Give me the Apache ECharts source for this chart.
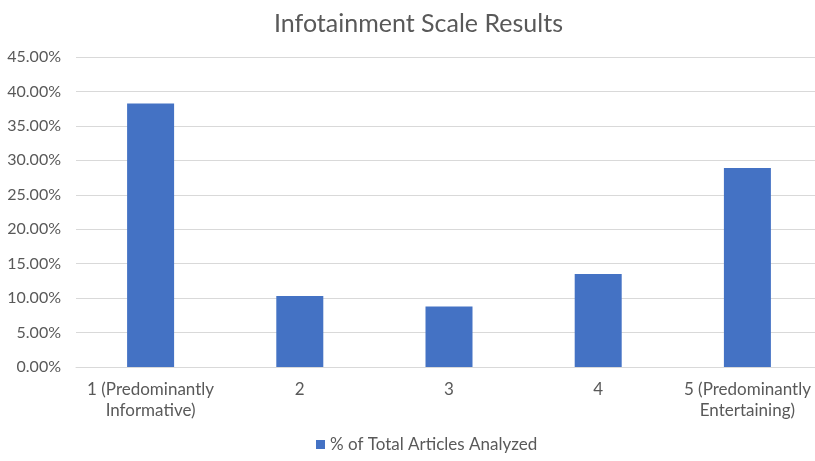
<!DOCTYPE html>
<html>
<head>
<meta charset="utf-8">
<script src="https://cdn.jsdelivr.net/npm/echarts@6/dist/echarts.min.js"></script>
<style>html,body{margin:0;padding:0;background:#fff;overflow:hidden}#c{width:822px;height:461px}</style>
</head>
<body>
<div id="c"></div>
<script>
const categories = ['1 (Predominantly\nInformative)', '2', '3', '4', '5 (Predominantly\nEntertaining)'];
const seriesName = '% of Total Articles Analyzed';
const values = [38.25, 10.3, 8.8, 13.5, 28.9];
const yTicks = { min: 0, max: 45, interval: 5 };

const chart = echarts.init(document.getElementById('c'));
const font = 'Lato, "Open Sans", sans-serif';
chart.setOption({
  animation: false,
  title: {
    text: 'Infotainment Scale Results',
    left: 269, top: 6,
    textStyle: { fontFamily: font, fontSize: 25, fontWeight: 'normal', color: '#595959' }
  },
  legend: {
    bottom: 3, left: 311,
    itemWidth: 9, itemHeight: 9, itemGap: 6,
    icon: 'rect',
    textStyle: { fontFamily: font, fontSize: 17, color: '#595959' },
    data: [seriesName]
  },
  grid: { left: 76, top: 57, right: 0, height: 310, containLabel: false },
  xAxis: {
    type: 'category',
    data: categories,
    axisLine: { lineStyle: { color: '#d9d9d9' } },
    axisTick: { show: false },
    axisLabel: { fontFamily: font, fontSize: 17, color: '#595959', margin: 12, lineHeight: 21, interval: 0 }
  },
  yAxis: {
    type: 'value',
    min: yTicks.min, max: yTicks.max, interval: yTicks.interval,
    axisLine: { show: false },
    axisTick: { show: false },
    splitLine: { lineStyle: { color: '#d9d9d9', width: 1 } },
    axisLabel: { fontFamily: font, fontSize: 16, color: '#595959', margin: 15,
      formatter: v => v.toFixed(2) + '%' }
  },
  series: [{
    name: seriesName,
    type: 'bar',
    data: values,
    barWidth: 47,
    itemStyle: { color: '#4472c4' }
  }]
});
</script>
</body>
</html>
